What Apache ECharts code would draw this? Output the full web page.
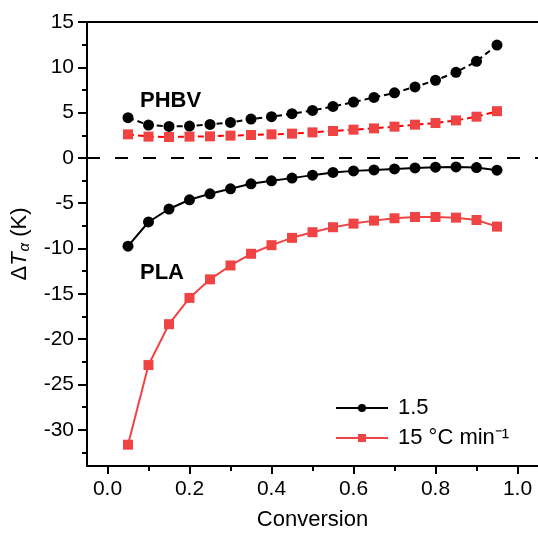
<!DOCTYPE html>
<html>
<head>
<meta charset="utf-8">
<script src="https://cdn.jsdelivr.net/npm/echarts@6/dist/echarts.min.js"></script>
<style>html,body{margin:0;padding:0;background:#fff}#c{width:538px;height:536px}</style>
</head>
<body>
<div id="c"></div>
<script>
const conversion = [0.05,0.10,0.15,0.20,0.25,0.30,0.35,0.40,0.45,0.50,0.55,0.60,0.65,0.70,0.75,0.80,0.85,0.90,0.95];
const phbv_1_5 = [4.44,3.63,3.48,3.52,3.70,3.92,4.29,4.55,4.88,5.24,5.68,6.16,6.67,7.18,7.84,8.57,9.45,10.66,12.46];
const phbv_15  = [2.60,2.35,2.31,2.35,2.38,2.46,2.53,2.60,2.68,2.82,2.97,3.12,3.26,3.45,3.67,3.85,4.14,4.55,5.16];
const pla_1_5  = [-9.74,-7.07,-5.64,-4.62,-3.96,-3.41,-2.86,-2.53,-2.23,-1.90,-1.60,-1.43,-1.32,-1.21,-1.10,-1.02,-0.99,-1.06,-1.35];
const pla_15   = [-31.65,-22.86,-18.35,-15.45,-13.40,-11.87,-10.58,-9.63,-8.82,-8.20,-7.65,-7.25,-6.92,-6.66,-6.52,-6.52,-6.59,-6.85,-7.58];
const xMajorTicks = [0.0,0.2,0.4,0.6,0.8,1.0];
const xMinorTicks = [0.1,0.3,0.5,0.7,0.9];
const yMajorTicks = [-30,-25,-20,-15,-10,-5,0,5,10,15];
const yMinorTicks = [-32.5,-27.5,-22.5,-17.5,-12.5,-7.5,-2.5,2.5,7.5,12.5];
const seriesNames = ['1.5', '15 \u00B0C min\u207B\u00B9'];
const labels = ['PHBV', 'PLA'];

const pair = a => conversion.map((x, i) => [x, a[i]]);
const FONT = 'Liberation Sans, Arial, sans-serif';
const RED = '#f04444';
const chart = echarts.init(document.getElementById('c'), null, {renderer: 'canvas'});
const xMin = -0.05, xMax = 1.05, yMin = -34, yMax = 15;
chart.setOption({
  animation: false,
  backgroundColor: '#fff',
  grid: {left: 87, right: -1, top: 22, bottom: 67, containLabel: false},
  xAxis: [
    {type: 'value', min: xMin, max: xMax, position: 'bottom',
     splitLine: {show: false},
     axisLine: {onZero: false, lineStyle: {color: '#000', width: 2}},
     axisTick: {show: true, inside: false, length: 8, lineStyle: {color: '#000', width: 2}, customValues: xMajorTicks},
     axisLabel: {color: '#000', fontSize: 21, fontFamily: FONT, margin: 13, customValues: xMajorTicks,
                 formatter: v => v.toFixed(1)},
     name: 'Conversion', nameLocation: 'middle', nameGap: 43,
     nameTextStyle: {color: '#000', fontSize: 22, fontFamily: FONT}},
    {type: 'value', min: xMin, max: xMax, position: 'bottom', splitLine: {show: false},
     axisLine: {show: false, onZero: false},
     axisTick: {show: true, length: 5, lineStyle: {color: '#000', width: 2}, customValues: xMinorTicks},
     axisLabel: {show: false}},
    {type: 'value', min: xMin, max: xMax, position: 'top', splitLine: {show: false},
     axisLine: {show: true, onZero: false, lineStyle: {color: '#000', width: 2}},
     axisTick: {show: false}, axisLabel: {show: false}}
  ],
  yAxis: [
    {type: 'value', min: yMin, max: yMax, position: 'left',
     splitLine: {show: false},
     axisLine: {show: true, onZero: false, lineStyle: {color: '#000', width: 2}},
     axisTick: {show: true, length: 9, lineStyle: {color: '#000', width: 2}, customValues: yMajorTicks},
     axisLabel: {color: '#000', fontSize: 21, fontFamily: FONT, margin: 13, customValues: yMajorTicks},
     name: '{n|\u0394}{i|T}{s|\u03B1}{n| (K)}', nameLocation: 'middle', nameGap: 52,
     nameTextStyle: {color: '#000', fontSize: 22, fontFamily: FONT,
       rich: {
         n: {fontSize: 22, fontFamily: FONT, color: '#000'},
         i: {fontSize: 22, fontFamily: FONT, fontStyle: 'italic', color: '#000'},
         s: {fontSize: 15, fontFamily: FONT, fontStyle: 'italic', color: '#000', verticalAlign: 'bottom', padding: [10, 0, 0, 1]}
       }}},
    {type: 'value', min: yMin, max: yMax, position: 'left', splitLine: {show: false},
     axisLine: {show: false, onZero: false},
     axisTick: {show: true, length: 5, lineStyle: {color: '#000', width: 2}, customValues: yMinorTicks},
     axisLabel: {show: false}}
  ],
  legend: {
    orient: 'vertical', left: 335, top: 397, padding: 0,
    itemWidth: 52, itemHeight: 10, itemGap: 8,
    data: seriesNames,
    lineStyle: {type: 'solid'},
    textStyle: {color: '#000', fontSize: 22, fontFamily: FONT, padding: [0, 0, 0, 5]}
  },
  series: [
    {name: seriesNames[0], type: 'line', data: pair(pla_1_5), symbol: 'circle', symbolSize: 11,
     itemStyle: {color: '#000'}, lineStyle: {color: '#000', width: 2}, z: 3,
     markLine: {silent: true, symbol: 'none', label: {show: false},
       lineStyle: {color: '#000', type: [13, 15], width: 2}, data: [{yAxis: 0}]}},
    {name: seriesNames[1], type: 'line', data: pair(pla_15), symbol: 'rect', symbolSize: 10,
     itemStyle: {color: RED}, lineStyle: {color: RED, width: 2}, z: 2},
    {name: seriesNames[0], type: 'line', data: pair(phbv_1_5), symbol: 'circle', symbolSize: 11,
     itemStyle: {color: '#000'}, lineStyle: {color: '#000', width: 2, type: [6, 4]}, z: 3},
    {name: seriesNames[1], type: 'line', data: pair(phbv_15), symbol: 'rect', symbolSize: 10,
     itemStyle: {color: RED}, lineStyle: {color: '#ff0000', width: 2, type: [6, 4]}, z: 2}
  ],
  graphic: [
    {type: 'text', left: 140, top: 90, style: {text: labels[0], fill: '#000', font: 'bold 22px ' + FONT}},
    {type: 'text', left: 140, top: 262, style: {text: labels[1], fill: '#000', font: 'bold 22px ' + FONT}}
  ]
});
</script>
</body>
</html>
